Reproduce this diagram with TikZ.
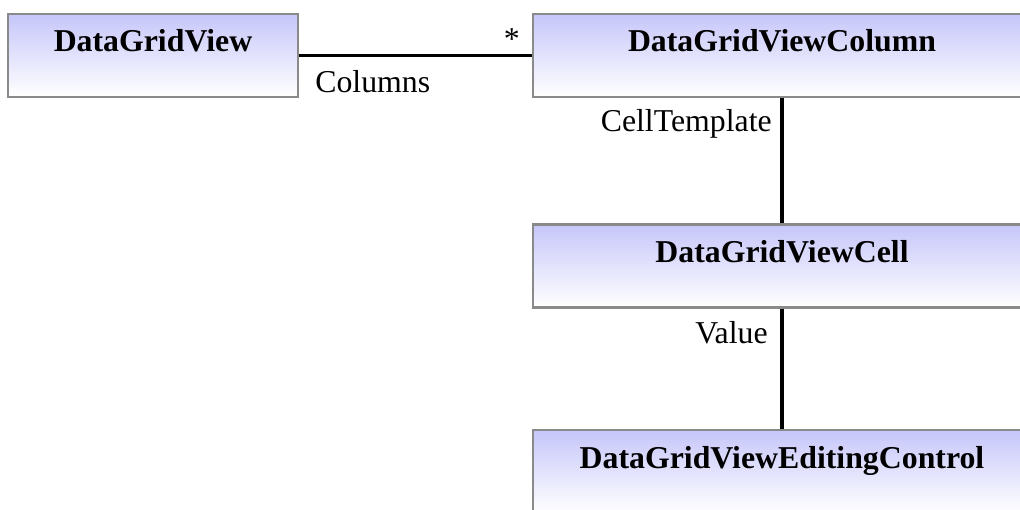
\documentclass[tikz,border=0pt]{standalone}
\usepackage{fontspec}
\setmainfont{Liberation Serif}
\usetikzlibrary{positioning}
\definecolor{clsborder}{RGB}{138, 138, 138}
\definecolor{clstop}{RGB}{198, 198, 250}

\begin{document}
\begin{tikzpicture}[x=0.02cm, y=-0.02cm,
        cls/.style={draw=clsborder, line width=1.3pt, top color=clstop,
                    bottom color=white, minimum width=5.8cm, inner xsep=0pt,
                    inner ysep=0.36cm, text height=0.4cm, text depth=0.54cm,
                    font=\bfseries\fontsize{18.1}{20}\selectfont},
        wide/.style={cls, minimum width=9.96cm},
        assoc/.style={line width=2pt},
        role/.style={inner sep=0pt, font=\fontsize{18.1}{20}\selectfont}
      ]
        \useasboundingbox (0,0) rectangle (1020,510);
        \clip (0,0) rectangle (1020,510);

        \node[cls] (grid) at (153, 55.5) {DataGridView};
        \node[wide] (column) at (782, 55.5) {DataGridViewColumn};
        \node[wide] (cell) at (782, 266) {DataGridViewCell};
        \node[wide] (editing) at (782, 471.5) {DataGridViewEditingControl};

        \draw[assoc] (grid) -- (column);
        \draw[assoc] (column) -- (cell);
        \draw[assoc] (cell) -- (editing);

        \node[role, anchor=base west] (colsrole) at (315, 92) {Columns};
        \node[role, anchor=base east] (colsmult) at (520, 50) {*};
        \node[role, anchor=base east] (tplrole) at (772, 132) {CellTemplate};
        \node[role, anchor=base east] (valrole) at (768, 343) {Value};
      \end{tikzpicture}
\end{document}
